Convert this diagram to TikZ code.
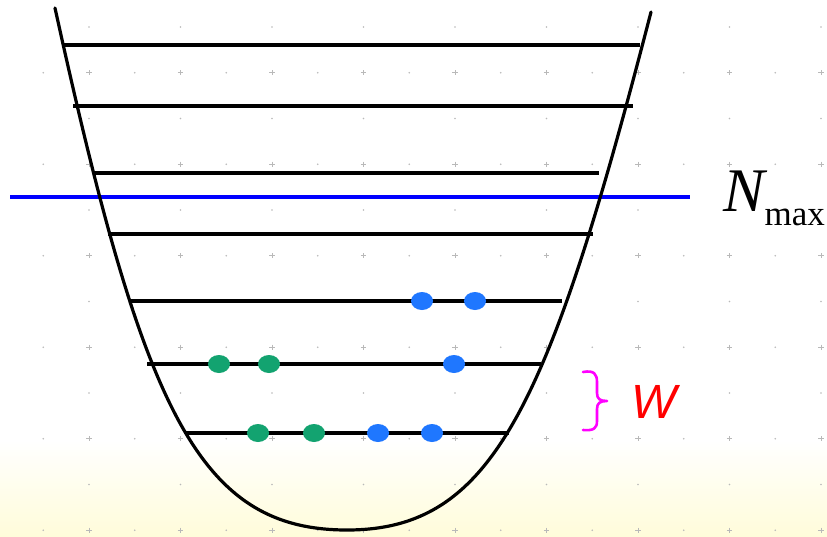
\documentclass[tikz,border=0pt]{standalone}
\usepackage{fontspec}
\setmainfont{Liberation Serif}
\setsansfont{Liberation Sans}
\usetikzlibrary{shapes.geometric}
\definecolor{bgy}{RGB}{255,252,218}
\definecolor{gridc}{RGB}{185,185,185}
\definecolor{dotblue}{RGB}{31,119,255}
\definecolor{dotgreen}{RGB}{19,163,112}
\definecolor{nblue}{RGB}{0,0,255}
\definecolor{bracemag}{RGB}{255,0,255}
\tikzset{
  level/.style={line width=3.2pt, black},
  well/.style={line width=3.2pt, black, line cap=round},
  nmaxline/.style={line width=3.6pt, nblue},
  bdot/.style={ellipse, fill=dotblue, inner sep=0pt, minimum width=22pt, minimum height=18pt},
  gdot/.style={ellipse, fill=dotgreen, inner sep=0pt, minimum width=22pt, minimum height=18pt},
  bracepath/.style={line width=2.6pt, bracemag, line cap=round, line join=round},
}
\begin{document}
\begin{tikzpicture}[x=1pt,y=-1pt]
\useasboundingbox (0,0) rectangle (827,536);
% background
\fill[white] (0,0) rectangle (827,441);
\shade[top color=white, bottom color=bgy] (0,440) rectangle (827,536);
% grid of dots
\foreach \k in {0,...,11}{
  \pgfmathsetmacro\yy{27+45.75*\k}
  \ifodd\k
    \foreach \j in {-2,...,16}{
      \pgfmathsetmacro\xx{89+45.75*\j}
      \ifodd\j
        \fill[gridc] (\xx,\yy) circle (0.9);
      \else
        \draw[gridc, line width=0.9pt] (\xx-2.6,\yy) -- (\xx+2.6,\yy) (\xx,\yy-2.6) -- (\xx,\yy+2.6);
      \fi
    }
  \else
    \foreach \j in {0,...,8}{
      \pgfmathsetmacro\xx{89+91.5*\j}
      \fill[gridc] (\xx,\yy) circle (0.9);
    }
  \fi
}
% N_max line
\coordinate (nl) at (10,197);
\coordinate (nr) at (690,197);
\draw[nmaxline] (nl) -- (nr);
% levels
\draw[level] (62,45) -- (640,45);
\draw[level] (73,106) -- (633,106);
\draw[level] (95,173) -- (599,173);
\draw[level] (108,234) -- (593,234);
\draw[level] (129,301) -- (562,301);
\draw[level] (147,364) -- (541,364);
\draw[level] (185,433) -- (509,433);
% potential well
\draw[well] (55,8) .. controls (143,408) and (197,530) .. (347,530)
  .. controls (492,530) and (548,410) .. (651,12);
% particles
\node[bdot] (b1) at (422,301) {};
\node[bdot] (b2) at (475,301) {};
\node[gdot] (g1) at (219,364) {};
\node[gdot] (g2) at (269,364) {};
\node[bdot] (b3) at (454,364) {};
\node[gdot] (g3) at (258,433) {};
\node[gdot] (g4) at (314,433) {};
\node[bdot] (b4) at (378,433) {};
\node[bdot] (b5) at (432,433) {};
% N_max label
\node[anchor=base west, inner sep=0pt] (nmax) at (723,211)
  {\fontsize{62}{62}\selectfont\itshape N\upshape\fontsize{35}{35}\selectfont\raisebox{-14pt}{max}};
% brace and W
\draw[bracepath] (583,372) .. controls (594,370) and (597,374) .. (597,382) -- (597,393) .. controls (597,399) and (600,401) .. (607,401) .. controls (600,401) and (597,403) .. (597,409) -- (597,421) .. controls (597,428) and (594,431) .. (583,430);
\node[anchor=base west, inner sep=0pt, text=red] (w) at (631,418)
  {\fontsize{48}{48}\selectfont\sffamily\itshape W};
\end{tikzpicture}
\end{document}
